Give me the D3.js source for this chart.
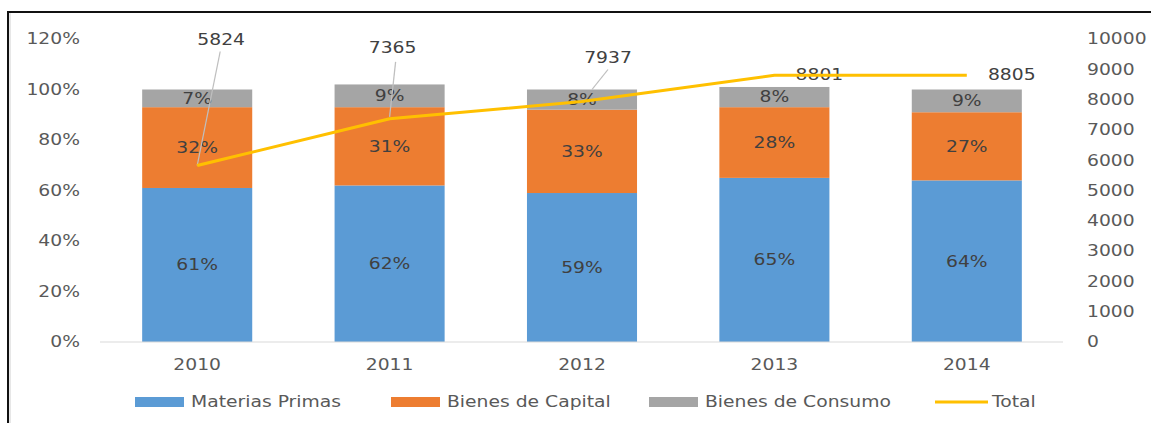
<!DOCTYPE html>
<html>
<head>
<meta charset="utf-8">
<script src="https://cdn.jsdelivr.net/npm/d3@7"></script>
<style>
  body { margin: 0; background: #fff; }
  svg { display: block; }
  text { font-family: "DejaVu Sans", sans-serif; }
</style>
</head>
<body>
<svg id="chart" width="1151" height="423"></svg>
<script>
  // data
  const years = ["2010", "2011", "2012", "2013", "2014"];
  const materiasPrimas = [61, 62, 59, 65, 64];
  const bienesCapital  = [32, 31, 33, 28, 27];
  const bienesConsumo  = [7, 9, 8, 8, 9];
  const total = [5824, 7365, 7937, 8801, 8805];
  const pctTicks = [0, 20, 40, 60, 80, 100, 120];
  const totalTicks = [0, 1000, 2000, 3000, 4000, 5000, 6000, 7000, 8000, 9000, 10000];
  const seriesNames = ["Materias Primas", "Bienes de Capital", "Bienes de Consumo"];
  const lineName = "Total";

  const colors = ["#5B9BD5", "#ED7D31", "#A5A5A5"];
  const lineColor = "#FFC000";

  const svg = d3.select("#chart");
  const width = +svg.attr("width");
  const height = +svg.attr("height");

  // the reference is a screenshot stretched sideways, so draw in a
  // narrower coordinate space and widen it
  const sx = 1.25;
  const px = v => v / sx;

  const g = svg.append("g").attr("transform", `scale(${sx},1)`);

  const x = d3.scaleBand()
    .domain(years)
    .range([px(101), px(1063)])
    .paddingInner(0.428)
    .paddingOuter(0.214);

  const y = d3.scaleLinear().domain([0, 120]).range([342, 39]);
  const y2 = d3.scaleLinear().domain([0, 10000]).range([342, 39]);

  // rows for the stack
  const rows = years.map((yr, i) => ({
    year: yr,
    s0: materiasPrimas[i],
    s1: bienesCapital[i],
    s2: bienesConsumo[i]
  }));
  const stacked = d3.stack().keys(["s0", "s1", "s2"])(rows);

  // left axis labels
  g.append("g")
    .selectAll("text")
    .data(pctTicks)
    .enter()
    .append("text")
      .attr("x", px(80))
      .attr("y", d => y(d))
      .attr("dy", "0.36em")
      .attr("text-anchor", "end")
      .style("font-size", "15px")
      .style("fill", "#595959")
      .text(d => d + "%");

  // right axis labels
  g.append("g")
    .selectAll("text")
    .data(totalTicks)
    .enter()
    .append("text")
      .attr("x", px(1087))
      .attr("y", d => y2(d))
      .attr("dy", "0.36em")
      .style("font-size", "15px")
      .style("fill", "#595959")
      .text(d => d);

  // bars
  const layers = g.append("g")
    .selectAll("g")
    .data(stacked)
    .enter()
    .append("g")
      .attr("fill", (d, i) => colors[i]);

  layers.selectAll("rect")
    .data(d => d)
    .enter()
    .append("rect")
      .attr("x", d => x(d.data.year))
      .attr("width", x.bandwidth())
      .attr("y", d => y(d[1]))
      .attr("height", d => y(d[0]) - y(d[1]));

  // baseline
  g.append("line")
    .attr("x1", px(100)).attr("x2", px(1063))
    .attr("y1", y(0)).attr("y2", y(0))
    .attr("stroke", "#d9d9d9")
    .attr("stroke-width", 1);

  // segment labels
  layers.selectAll("text")
    .data(d => d.map(p => ({ p: p, v: p[1] - p[0] })))
    .enter()
    .append("text")
      .attr("x", d => x(d.p.data.year) + x.bandwidth() / 2)
      .attr("y", d => y((d.p[0] + d.p[1]) / 2))
      .attr("dy", "0.36em")
      .attr("text-anchor", "middle")
      .style("font-size", "15px")
      .style("fill", "#404040")
      .text(d => d.v + "%");

  // x labels
  g.append("g")
    .selectAll("text")
    .data(years)
    .enter()
    .append("text")
      .attr("x", d => x(d) + x.bandwidth() / 2)
      .attr("y", 365)
      .attr("dy", "0.36em")
      .attr("text-anchor", "middle")
      .style("font-size", "15px")
      .style("fill", "#595959")
      .text(d => d);

  // total line
  const cx = i => x(years[i]) + x.bandwidth() / 2;
  const line = d3.line()
    .x((d, i) => cx(i))
    .y(d => y2(d));

  // leader lines for the total labels (offsets in screen px from the point)
  const leaders = [[23, -114, 0, 0], [6, -57, 0, -2], [26, -32, 10, -12]];
  g.append("g")
    .selectAll("line")
    .data(leaders)
    .enter()
    .append("line")
      .attr("x1", (d, i) => cx(i) + px(d[0]))
      .attr("y1", (d, i) => y2(total[i]) + d[1])
      .attr("x2", (d, i) => cx(i) + px(d[2]))
      .attr("y2", (d, i) => y2(total[i]) + d[3])
      .attr("stroke", "#bfbfbf")
      .attr("stroke-width", 1);

  // total labels
  const labelOffsets = [[24, -126], [3, -71], [26, -44], [45, -1], [45, -1]];
  g.append("g")
    .selectAll("text")
    .data(total)
    .enter()
    .append("text")
      .attr("x", (d, i) => cx(i) + px(labelOffsets[i][0]))
      .attr("y", (d, i) => y2(d) + labelOffsets[i][1])
      .attr("dy", "0.36em")
      .attr("text-anchor", "middle")
      .style("font-size", "15px")
      .style("fill", "#404040")
      .text(d => d);

  g.append("path")
    .datum(total)
    .attr("d", line)
    .attr("fill", "none")
    .attr("stroke", lineColor)
    .attr("stroke-width", 3);

  // legend
  const legendY = 402;
  const legendX = [135, 391, 649];
  const legend = g.append("g");
  seriesNames.forEach((name, i) => {
    legend.append("rect")
      .attr("x", px(legendX[i]))
      .attr("y", legendY - 5)
      .attr("width", px(49))
      .attr("height", 10)
      .attr("fill", colors[i]);
    legend.append("text")
      .attr("x", px(legendX[i] + 56))
      .attr("y", legendY)
      .attr("dy", "0.36em")
      .style("font-size", "15px")
      .style("fill", "#595959")
      .text(name);
  });
  legend.append("line")
    .attr("x1", px(935)).attr("x2", px(988))
    .attr("y1", legendY).attr("y2", legendY)
    .attr("stroke", lineColor)
    .attr("stroke-width", 3);
  legend.append("text")
    .attr("x", px(992))
    .attr("y", legendY)
    .attr("dy", "0.36em")
    .style("font-size", "15px")
    .style("fill", "#595959")
    .text(lineName);

  // frame on the left and top edges
  svg.append("path")
    .attr("d", `M8,${height} V12 H${width}`)
    .attr("fill", "none")
    .attr("stroke", "#111")
    .attr("stroke-width", 2);
  svg.append("line")
    .attr("x1", 10).attr("x2", 10)
    .attr("y1", 13).attr("y2", height)
    .attr("stroke", "#d0d0d0")
    .attr("stroke-width", 1);
</script>
</body>
</html>
